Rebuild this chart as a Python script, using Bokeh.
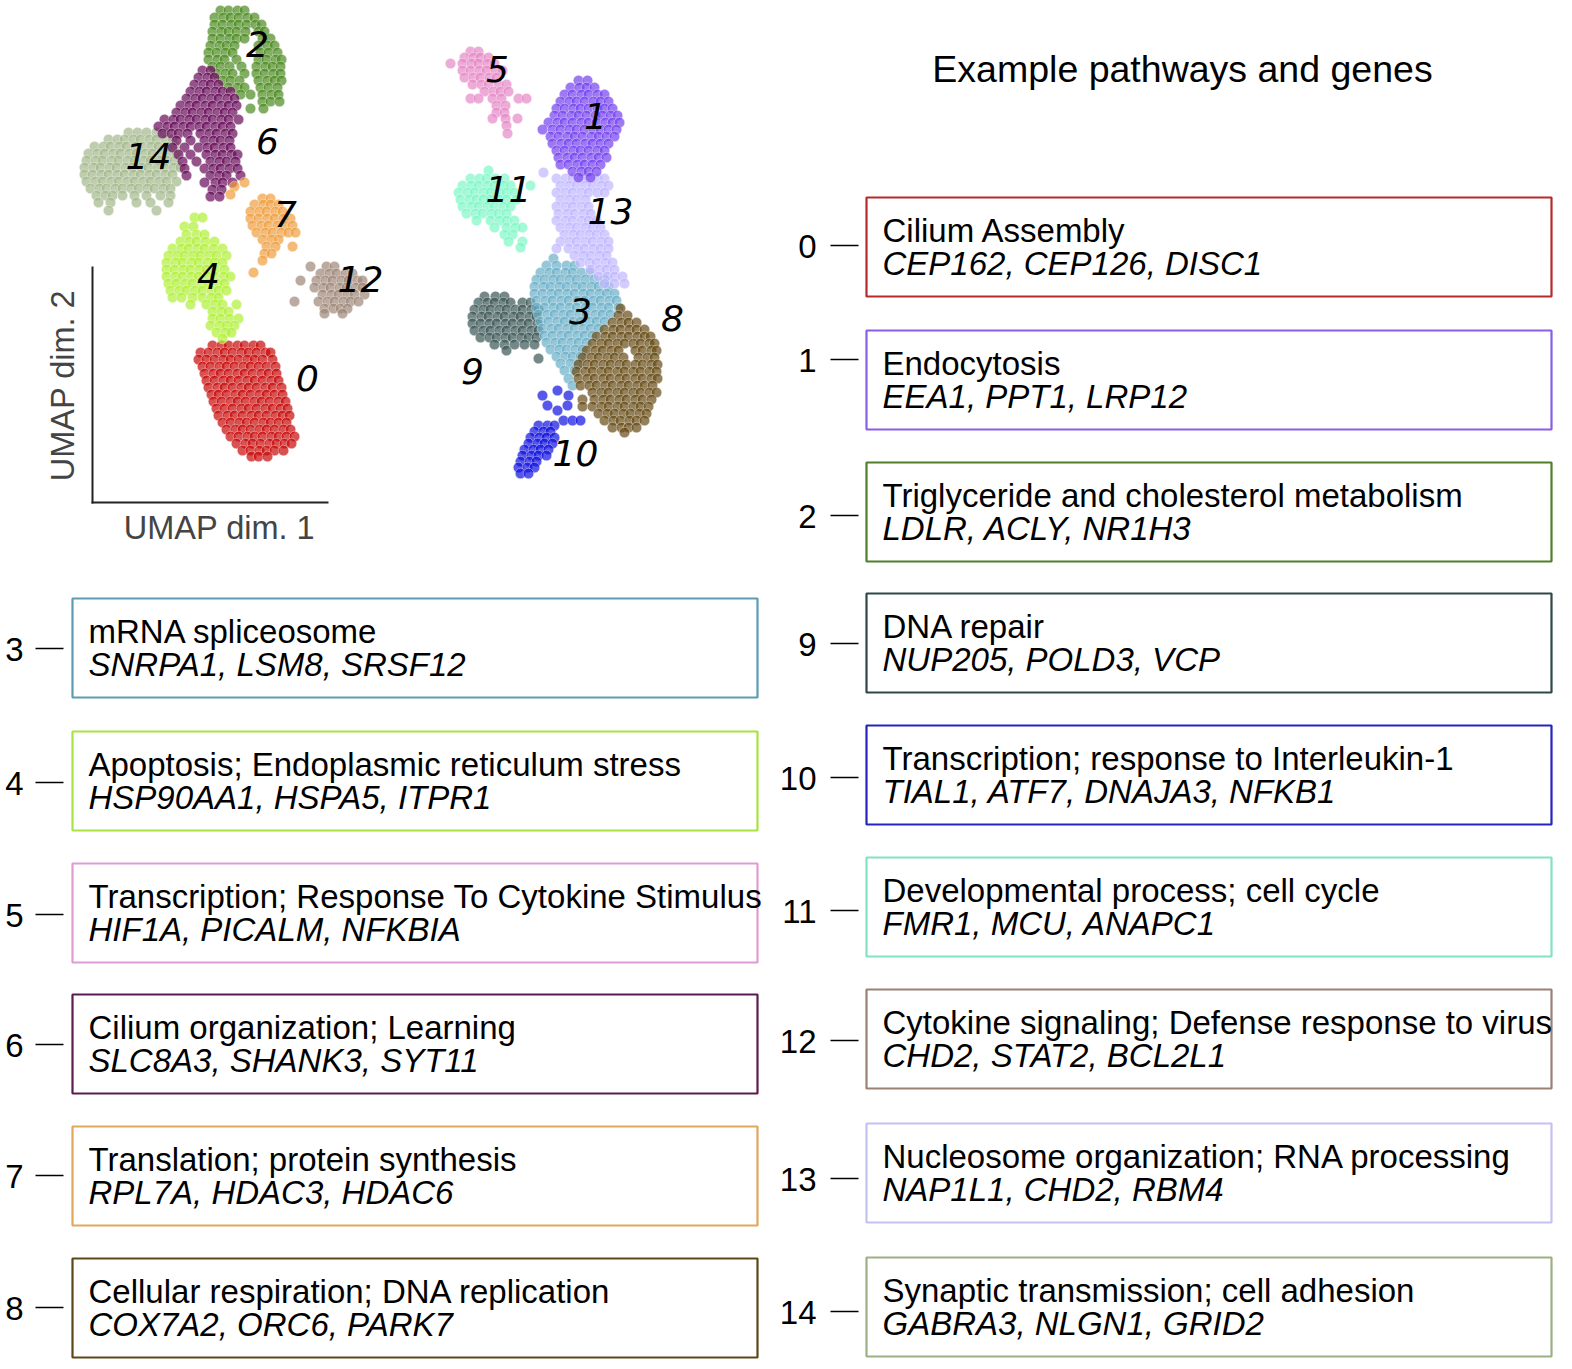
from bokeh.plotting import figure
from bokeh.models import Range1d, Label
from bokeh.core.properties import value
from bokeh.embed import file_html
from bokeh.resources import INLINE

# ---------------- data ----------------
cluster_ids = list(range(15))
pathways = [
    "Cilium Assembly",
    "Endocytosis",
    "Triglyceride and cholesterol metabolism",
    "mRNA spliceosome",
    "Apoptosis; Endoplasmic reticulum stress",
    "Transcription; Response To Cytokine Stimulus",
    "Cilium organization; Learning",
    "Translation; protein synthesis",
    "Cellular respiration; DNA replication",
    "DNA repair",
    "Transcription; response to Interleukin-1",
    "Developmental process; cell cycle",
    "Cytokine signaling; Defense response to virus",
    "Nucleosome organization; RNA processing",
    "Synaptic transmission; cell adhesion",
]
genes = [
    "CEP162, CEP126, DISC1",
    "EEA1, PPT1, LRP12",
    "LDLR, ACLY, NR1H3",
    "SNRPA1, LSM8, SRSF12",
    "HSP90AA1, HSPA5, ITPR1",
    "HIF1A, PICALM, NFKBIA",
    "SLC8A3, SHANK3, SYT11",
    "RPL7A, HDAC3, HDAC6",
    "COX7A2, ORC6, PARK7",
    "NUP205, POLD3, VCP",
    "TIAL1, ATF7, DNAJA3, NFKB1",
    "FMR1, MCU, ANAPC1",
    "CHD2, STAT2, BCL2L1",
    "NAP1L1, CHD2, RBM4",
    "GABRA3, NLGN1, GRID2",
]
point_colors = ["#c80808", "#7440f0", "#4a8a1e", "#6aafc7", "#b0f038", "#e688c6",
                "#660a58", "#f09e3e", "#674c15", "#3a5656", "#1010e0", "#7ef6c6",
                "#9e8676", "#bfb6ff", "#a3b88a"]
box_colors = ["#b52a2a", "#8a5de6", "#4f7f28", "#5b9cb3", "#a9e342", "#e29bd1",
              "#5b1d4f", "#e0a75d", "#5c4719", "#2e4848", "#2525bb", "#82e2c2",
              "#9a8173", "#c3c1f2", "#9cb085"]

# UMAP embedding (rows of cells: umap dim. 2 value -> umap dim. 1 values), in plot units
cells_0 = [
    (345, [212, 221, 228, 237, 244, 253, 260]),
    (352, [200, 208, 217, 224, 232, 241, 248, 256, 265, 270]),
    (359, [198, 206, 214, 223, 230, 238, 247, 254, 262, 272]),
    (366, [202, 210, 219, 226, 234, 243, 250, 258, 266, 275]),
    (373, [204, 213, 220, 228, 237, 244, 252, 261, 268, 276]),
    (380, [206, 214, 223, 230, 238, 247, 254, 262, 271, 278]),
    (387, [208, 217, 224, 232, 241, 248, 256, 265, 272, 281]),
    (394, [211, 218, 226, 235, 242, 250, 259, 266, 274, 282]),
    (401, [213, 221, 230, 237, 245, 254, 261, 269, 278, 285]),
    (408, [216, 224, 232, 241, 248, 256, 265, 272, 280, 287]),
    (415, [218, 227, 234, 242, 251, 258, 266, 275, 282, 289]),
    (422, [222, 230, 239, 246, 254, 263, 270, 278, 286]),
    (429, [226, 235, 242, 250, 259, 266, 274, 283, 290]),
    (436, [230, 238, 247, 254, 262, 271, 278, 286, 294]),
    (443, [236, 245, 252, 260, 269, 276, 284, 291]),
    (450, [242, 250, 259, 266, 274, 283]),
    (456, [251, 258, 267]),
]
cells_1 = [
    (80, [578, 587]),
    (87, [570, 579, 586, 594]),
    (94, [564, 572, 581, 588, 597, 604]),
    (101, [560, 569, 576, 584, 593, 600, 608]),
    (108, [556, 564, 573, 580, 588, 597, 604, 612]),
    (115, [554, 562, 571, 578, 586, 595, 602, 610, 617]),
    (122, [548, 557, 564, 572, 581, 588, 596, 605, 612, 619]),
    (129, [542, 552, 560, 569, 576, 584, 593, 600, 608, 616]),
    (136, [550, 558, 567, 574, 582, 591, 598, 606, 614]),
    (143, [552, 561, 568, 576, 585, 592, 600, 608]),
    (150, [556, 564, 573, 580, 588, 597, 604]),
    (157, [558, 567, 574, 582, 591, 598, 606]),
    (164, [560, 568, 577, 584, 592, 600]),
    (171, [572, 581, 588, 596]),
    (177, [578, 590]),
]
cells_2 = [
    (10, [220, 228, 237, 244]),
    (17, [214, 223, 230, 238, 247, 254]),
    (24, [214, 222, 231, 238, 246, 255, 261]),
    (31, [212, 221, 228, 236, 245, 258, 264]),
    (38, [212, 220, 229, 236, 244, 262, 270]),
    (45, [210, 219, 226, 234, 258, 267, 274]),
    (52, [208, 216, 225, 232, 260, 268, 277]),
    (59, [208, 217, 224, 236, 258, 266, 275, 281]),
    (66, [212, 220, 229, 241, 256, 265, 272, 280]),
    (73, [216, 225, 232, 244, 256, 264, 273, 280]),
    (80, [222, 230, 239, 258, 267, 274, 281]),
    (87, [228, 237, 244, 260, 268, 277]),
    (94, [240, 250, 262, 271, 278]),
    (101, [262, 270, 279]),
    (108, [250, 263]),
]
cells_3 = [
    (258, [553]),
    (265, [546, 556, 566, 574]),
    (272, [540, 549, 556, 565, 572, 581, 590]),
    (279, [536, 544, 553, 560, 569, 576, 585, 594, 604]),
    (286, [534, 543, 550, 559, 566, 575, 582, 591, 598, 608]),
    (293, [534, 542, 551, 558, 567, 574, 583, 590, 599, 606, 614]),
    (300, [536, 545, 552, 561, 568, 577, 584, 593, 600, 609, 616]),
    (307, [536, 544, 553, 560, 569, 576, 585, 592, 601, 608, 618]),
    (314, [538, 547, 554, 563, 570, 579, 586, 595, 602, 610]),
    (321, [540, 548, 557, 564, 573, 580, 589, 596, 604]),
    (328, [542, 551, 558, 567, 574, 583, 590, 598]),
    (335, [544, 552, 561, 568, 577, 584, 592]),
    (342, [546, 555, 562, 571, 578, 586]),
    (349, [550, 559, 566, 575, 582]),
    (356, [556, 565, 572, 580]),
    (363, [560, 570, 578]),
    (370, [564, 574]),
    (378, [568]),
    (385, [572]),
]
cells_4 = [
    (217, [194, 202]),
    (226, [184, 193]),
    (234, [186, 196, 204]),
    (241, [180, 189, 196, 205, 214]),
    (248, [172, 181, 188, 197, 204, 213, 222]),
    (255, [168, 177, 184, 193, 200, 209, 216, 226]),
    (262, [166, 175, 182, 191, 198, 207, 214, 222]),
    (269, [166, 174, 183, 190, 199, 206, 215, 224]),
    (276, [166, 175, 182, 191, 198, 207, 214, 223, 230]),
    (283, [168, 176, 185, 192, 201, 208, 217, 224]),
    (290, [170, 179, 186, 195, 202, 211, 218, 226]),
    (297, [172, 181, 192, 202, 211, 218]),
    (304, [190, 206, 215, 222, 236]),
    (311, [212, 221, 228]),
    (318, [212, 220, 229, 238]),
    (325, [210, 219, 226, 234]),
    (332, [216, 225, 231]),
    (338, [222]),
]
cells_5 = [
    (51, [470, 478]),
    (57, [464, 473, 480, 488]),
    (63, [450, 462, 471, 478, 487, 494]),
    (70, [462, 470, 479, 486, 495, 502]),
    (77, [464, 473, 480, 489, 496]),
    (84, [472, 481, 488, 498, 506]),
    (91, [484, 493, 500, 508]),
    (98, [470, 478, 492, 501, 518, 526]),
    (105, [496, 505]),
    (112, [496, 504]),
    (118, [492, 505, 517]),
    (125, [506]),
    (133, [507]),
]
cells_6 = [
    (70, [202, 210]),
    (77, [198, 207, 214]),
    (84, [194, 203, 210, 218]),
    (91, [190, 199, 206, 215, 222, 230]),
    (98, [186, 195, 202, 211, 218, 227, 234]),
    (105, [180, 189, 196, 205, 212, 221, 228, 236]),
    (112, [176, 185, 192, 201, 208, 217, 224, 232]),
    (119, [164, 173, 180, 189, 196, 205, 212, 221, 228, 238]),
    (126, [158, 167, 174, 183, 190, 199, 206, 215, 222, 230]),
    (133, [162, 171, 178, 187, 200, 209, 216, 225, 232]),
    (140, [176, 190, 204, 213, 220, 229]),
    (147, [172, 184, 198, 207, 214, 223, 230]),
    (154, [178, 190, 206, 215, 222, 231, 237]),
    (161, [182, 196, 210, 219, 226, 235]),
    (168, [184, 204, 213, 220, 229, 237]),
    (175, [186, 210, 219, 226, 240]),
    (182, [204, 215, 222, 232]),
    (189, [212, 221]),
    (196, [210, 219]),
]
cells_7 = [
    (182, [244]),
    (186, [234]),
    (194, [230]),
    (198, [262, 270]),
    (204, [254, 263, 270, 278]),
    (211, [250, 259, 266, 275, 282]),
    (218, [250, 258, 267, 274, 283, 290]),
    (225, [252, 261, 268, 277, 284, 292]),
    (232, [256, 265, 272, 281, 288, 295]),
    (239, [262, 271, 278]),
    (246, [266, 275, 292]),
    (253, [264, 271]),
    (260, [262]),
    (272, [253]),
]
cells_8 = [
    (308, [620]),
    (315, [618, 627]),
    (322, [612, 621, 628, 636]),
    (329, [604, 613, 620, 629, 636, 644]),
    (336, [596, 605, 612, 621, 628, 637, 644, 650]),
    (343, [592, 601, 608, 617, 624, 633, 640, 649, 654]),
    (350, [586, 595, 602, 611, 618, 635, 642, 651, 656]),
    (357, [582, 591, 598, 607, 614, 623, 638, 647, 654]),
    (364, [578, 587, 594, 603, 610, 619, 626, 635, 642, 651, 657]),
    (371, [576, 585, 592, 601, 608, 617, 624, 633, 640, 649, 656]),
    (378, [578, 587, 594, 603, 610, 619, 626, 635, 642, 651, 657]),
    (385, [580, 589, 596, 605, 612, 621, 628, 637, 644, 652]),
    (392, [592, 601, 608, 617, 624, 633, 640, 649, 656]),
    (399, [582, 594, 603, 610, 619, 626, 635, 642, 651]),
    (406, [582, 592, 601, 608, 617, 624, 633, 640, 648]),
    (413, [598, 607, 614, 623, 630, 639, 646]),
    (420, [604, 613, 620, 629, 636, 644]),
    (427, [612, 621, 628, 636]),
    (432, [624]),
]
cells_9 = [
    (296, [484, 495, 504]),
    (302, [478, 487, 494, 503, 510, 522, 530]),
    (309, [474, 483, 490, 499, 506, 515, 522, 531, 538]),
    (316, [472, 481, 488, 497, 504, 513, 520, 529, 536]),
    (323, [472, 480, 489, 496, 505, 512, 521, 528, 537]),
    (330, [474, 483, 490, 499, 506, 515, 522, 531, 538]),
    (337, [480, 489, 496, 505, 512, 521, 528, 536]),
    (344, [494, 504, 514, 524, 534]),
    (350, [506]),
    (358, [538]),
]
cells_10 = [
    (390, [557]),
    (395, [542, 568]),
    (405, [547, 567]),
    (410, [557]),
    (420, [563, 572, 580]),
    (425, [538, 547, 554]),
    (431, [534, 543, 550]),
    (437, [530, 539, 546, 554]),
    (443, [528, 537, 544, 552]),
    (449, [524, 533, 540, 548]),
    (455, [522, 531, 538, 546]),
    (461, [520, 529, 536]),
    (467, [518, 527, 534]),
    (473, [520, 528]),
]
cells_11 = [
    (170, [488]),
    (178, [470, 479, 486, 495, 504]),
    (185, [462, 471, 478, 487, 494, 503, 510, 530]),
    (192, [458, 467, 474, 483, 490, 499, 506, 514]),
    (199, [460, 469, 476, 483, 490, 499, 506, 516]),
    (206, [462, 471, 478, 487, 494, 503, 510]),
    (213, [466, 475, 482, 491, 498, 506]),
    (220, [476, 490, 499, 506, 514]),
    (227, [494, 506, 515, 522]),
    (234, [504, 512]),
    (241, [508, 522]),
    (247, [520]),
]
cells_12 = [
    (266, [310, 326, 334]),
    (273, [320, 329, 336, 345, 352]),
    (280, [300, 316, 325, 332, 341, 348, 357, 362]),
    (287, [314, 323, 330, 339, 346, 355, 362]),
    (294, [322, 331, 338, 347, 354, 364]),
    (301, [294, 318, 327, 334, 343, 350, 358]),
    (308, [324, 333, 340, 347]),
    (313, [324, 342]),
]
cells_13 = [
    (172, [543]),
    (178, [556, 565, 572, 581, 588, 597, 604]),
    (185, [560, 569, 576, 585, 592, 601, 608]),
    (192, [556, 565, 572, 581, 588, 597, 604]),
    (199, [560, 569, 576, 585]),
    (206, [556, 565, 572, 581, 588]),
    (213, [558, 567, 574, 583, 590]),
    (220, [556, 565, 572, 581, 588, 596]),
    (227, [560, 569, 576, 585, 592, 600]),
    (234, [564, 573, 580, 589, 596, 604]),
    (241, [560, 569, 576, 585, 592, 601, 608]),
    (248, [556, 568, 577, 584, 593, 600, 608]),
    (255, [574, 583, 590, 599, 606]),
    (262, [580, 589, 596, 605, 612]),
    (269, [590, 599, 606, 614]),
    (276, [598, 607, 614, 622]),
    (283, [604, 614, 624]),
]
cells_14 = [
    (132, [128, 137, 146, 156, 164]),
    (139, [108, 117, 124, 133, 140, 149, 156, 165, 172]),
    (146, [94, 103, 110, 119, 126, 135, 142, 151, 158, 167, 174]),
    (153, [88, 97, 104, 113, 120, 129, 136, 145, 152, 161, 168, 176]),
    (160, [86, 95, 102, 111, 118, 127, 134, 143, 150, 159, 166, 174]),
    (167, [84, 93, 100, 109, 116, 125, 132, 141, 148, 157, 164, 173, 180]),
    (174, [84, 92, 101, 108, 117, 124, 133, 140, 149, 156, 165, 172]),
    (181, [86, 95, 102, 111, 118, 127, 134, 143, 150, 159, 166, 176]),
    (188, [90, 99, 106, 115, 122, 131, 138, 147, 154, 163, 170]),
    (195, [96, 105, 112, 122, 134, 146, 160, 170]),
    (202, [98, 110, 136, 150, 168]),
    (210, [108, 156]),
]
cells = [cells_0, cells_1, cells_2, cells_3, cells_4, cells_5, cells_6, cells_7,
         cells_8, cells_9, cells_10, cells_11, cells_12, cells_13, cells_14]

# cluster-number annotations inside the embedding
cluster_label_x = [307, 595, 257, 580, 208, 497, 267, 285, 672, 472, 575, 508, 360, 610, 148]
cluster_label_y = [377, 115, 43, 310, 275, 68, 140, 213, 317, 370, 452, 188, 278, 210, 155]

right_panel = [0, 1, 2, 9, 10, 11, 12, 13, 14]
left_panel = [3, 4, 5, 6, 7, 8]

# ---------------- layout ----------------
W, H = 1572, 1369
FONT = "Liberation Sans"
p = figure(width=W, height=H, output_backend="svg", toolbar_location=None,
           x_range=Range1d(0, W), y_range=Range1d(H, 0), min_border=0)
p.axis.visible = False
p.grid.visible = False
p.outline_line_color = None
p.background_fill_color = "white"
p.border_fill_color = "white"

# scatter, drawn in a layered order
draw_order = [14, 2, 6, 0, 4, 7, 12, 5, 11, 9, 3, 13, 1, 8, 10]
for c in draw_order:
    xs, ys = [], []
    for yv, row in cells[c]:
        for xv in row:
            xs.append(xv)
            ys.append(yv)
    p.scatter(x=xs, y=ys, size=10.5, fill_color=point_colors[c], fill_alpha=0.7,
              line_color="white", line_alpha=0.45, line_width=0.8)

p.text(x=cluster_label_x, y=cluster_label_y, text=[str(c) for c in cluster_ids],
       text_font=value("DejaVu Sans"), text_font_style="italic",
       text_font_size="36px", text_align="center", text_baseline="middle",
       text_color="black")

# UMAP axes (L-shaped)
p.segment(x0=[92, 91], y0=[266, 502], x1=[92, 328], y1=[503, 502],
          line_color="#222222", line_width=2)
p.add_layout(Label(x=219, y=527, text="UMAP dim. 1", text_font=FONT,
                   text_font_size="32.5px", text_align="center", text_baseline="middle"))
p.add_layout(Label(x=62, y=385, text="UMAP dim. 2", text_font=FONT,
                   text_font_size="32.5px", text_align="center", text_baseline="middle",
                   angle=1.5707963, angle_units="rad"))

# title
p.text(x=[1182], y=[68], text=["Example pathways and genes"], text_font=value(FONT),
       text_font_size="37.5px", text_align="center", text_baseline="middle", text_color="black")

# boxes
right_tops = [197, 330, 462, 593, 725, 857, 989, 1123, 1257]
right_ticks = [245, 359, 515, 643, 777, 910, 1040, 1178, 1311]
left_tops = [598, 731, 863, 994, 1126, 1258]
left_ticks = [648, 782, 914, 1044, 1175, 1307]
BOX_H = 99

def panel(ids, tops, ticks, box_left, box_right, num_right, dash0, dash1):
    cols = [box_colors[i] for i in ids]
    p.quad(left=[box_left] * len(ids), right=[box_right] * len(ids),
           top=tops, bottom=[t + BOX_H for t in tops],
           fill_color=None, line_color=cols, line_width=2.2)
    p.text(x=[box_left + 16] * len(ids), y=[t + 33 for t in tops],
           text=[pathways[i] for i in ids], text_font=value(FONT), text_font_size="33px",
           text_align="left", text_baseline="alphabetic", text_color="black")
    p.text(x=[box_left + 16] * len(ids), y=[t + 66 for t in tops],
           text=[genes[i] for i in ids], text_font=value(FONT), text_font_size="33px",
           text_font_style="italic", text_align="left", text_baseline="alphabetic",
           text_color="black")
    p.text(x=[num_right] * len(ids), y=[t + 1 for t in ticks], text=[str(i) for i in ids],
           text_font=value(FONT), text_font_size="33px", text_align="right",
           text_baseline="middle", text_color="black")
    p.segment(x0=[dash0] * len(ids), y0=ticks, x1=[dash1] * len(ids), y1=ticks,
              line_color="black", line_width=1.5)

panel(right_panel, right_tops, right_ticks, 866, 1551, 816, 830, 858)
panel(left_panel, left_tops, left_ticks, 72, 757, 23, 35, 63)

open("out.html", "w").write(file_html(p, INLINE))
